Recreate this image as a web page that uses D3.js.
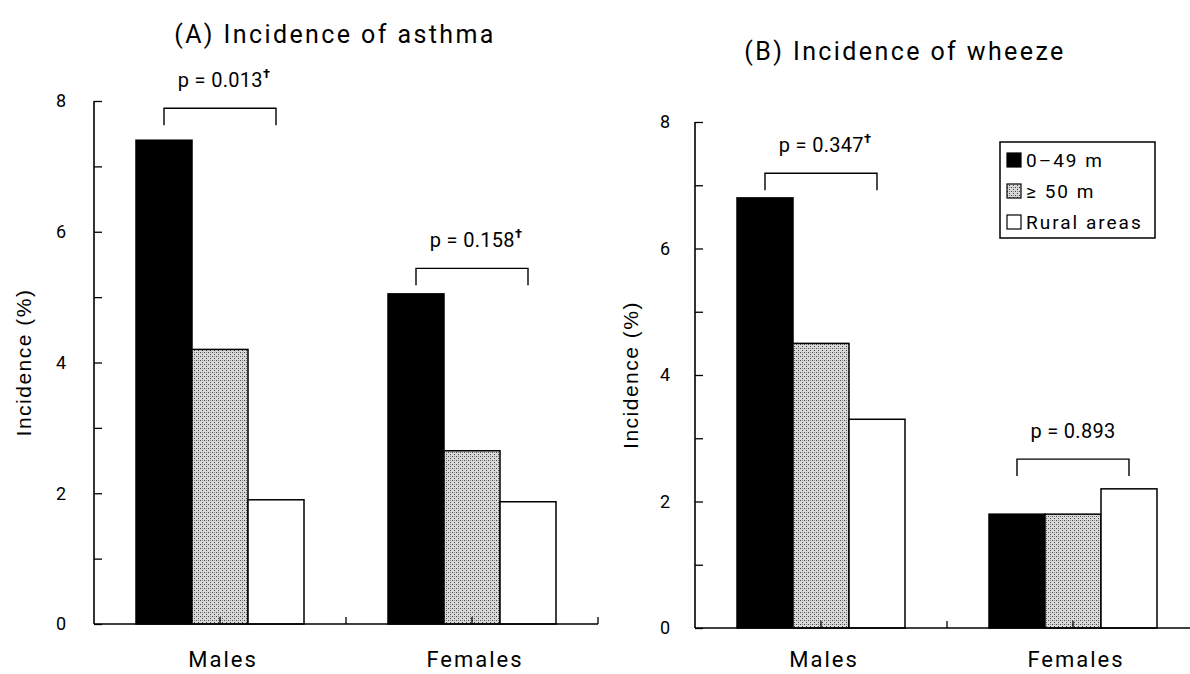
<!DOCTYPE html>
<meta charset="utf-8">
<style>
body { margin: 0; background: white; }
text { font-family: Roboto, "DejaVu Sans", sans-serif; fill: black; }
.ytitle { font-family: "Liberation Sans", Arial, sans-serif; }
</style>
<body>
<script src="https://d3js.org/d3.v7.min.js"></script>
<script>
var categories = ["Males", "Females"];
var groups = ["0\u201349 m", "\u2265 50 m", "Rural areas"];
var asthma = [[7.4, 4.2, 1.9], [5.05, 2.65, 1.87]];
var wheeze = [[6.8, 4.5, 3.3], [1.8, 1.8, 2.2]];
var asthmaP = ["0.013", "0.158"];
var asthmaDagger = [true, true];
var asthmaBracket = [7.89, 5.44];
var wheezeP = ["0.347", "0.893"];
var wheezeDagger = [true, false];
var wheezeBracket = [7.19, 2.67];
var yTicks = d3.range(0, 9);

var width = 1190, height = 674;
var svg = d3.select("body").append("svg")
    .attr("width", width)
    .attr("height", height);

// stipple pattern for the >= 50 m bars
var defs = svg.append("defs");
var pat = defs.append("pattern")
    .attr("id", "dots")
    .attr("patternUnits", "userSpaceOnUse")
    .attr("width", 4).attr("height", 4);
pat.append("rect").attr("width", 4).attr("height", 4).attr("fill", "#d9d9d9");
pat.append("rect").attr("x", 0).attr("y", 0).attr("width", 1).attr("height", 1).attr("fill", "#444");
pat.append("rect").attr("x", 2).attr("y", 2).attr("width", 1).attr("height", 1).attr("fill", "#444");
pat.append("rect").attr("x", 2).attr("y", 0).attr("width", 1).attr("height", 1).attr("fill", "#8a8a8a");

var fills = ["black", "url(#dots)", "white"];

function panel(opt) {
  var g = svg.append("g");
  var x = d3.scaleBand().domain(categories).range([opt.x0, opt.x1]);
  var bw = x.bandwidth();
  var xi = d3.scaleBand().domain(groups).range([bw / 6, bw * 5 / 6]);
  var y = d3.scaleLinear().domain([0, 8]).range([opt.y0, opt.y8]);

  // bars
  categories.forEach(function(c, ci) {
    g.append("g")
      .selectAll("rect")
      .data(opt.values[ci])
      .enter().append("rect")
      .attr("x", function(d, i) { return x(c) + xi(groups[i]); })
      .attr("y", function(d) { return y(d); })
      .attr("width", xi.bandwidth())
      .attr("height", function(d) { return y(0) - y(d); })
      .attr("fill", function(d, i) { return fills[i]; })
      .attr("stroke", "black")
      .attr("stroke-width", 1.5);
  });

  // y axis
  var yAxis = d3.axisLeft(y)
      .tickValues(yTicks)
      .tickSize(-8)
      .tickPadding(opt.labelPad)
      .tickFormat(function(d) { return d % 2 === 0 ? d : ""; });
  var ya = g.append("g")
      .attr("transform", "translate(" + opt.x0 + ",0)")
      .call(yAxis);
  ya.select(".domain").attr("stroke-width", 1.6).attr("d", "M0," + y(0) + "V" + y(8));
  ya.selectAll(".tick line").attr("stroke-width", 1.3);
  ya.selectAll(".tick text")
      .attr("font-size", 18)
      .attr("font-family", null);

  // x axis with ticks at band edges and centres
  var xt = [];
  categories.forEach(function(c) { xt.push(x(c)); xt.push(x(c) + bw / 2); });
  xt.push(opt.x1);
  g.append("line")
      .attr("x1", opt.x0).attr("x2", opt.x1)
      .attr("y1", y(0)).attr("y2", y(0))
      .attr("stroke", "black").attr("stroke-width", 1.6);
  g.append("g").selectAll("line")
      .data(xt.slice(1))
      .enter().append("line")
      .attr("x1", function(d) { return d; }).attr("x2", function(d) { return d; })
      .attr("y1", y(0)).attr("y2", y(0) - 7)
      .attr("stroke", "black").attr("stroke-width", 1.3);

  g.append("g").selectAll("text")
      .data(categories)
      .enter().append("text")
      .attr("x", function(d) { return x(d) + bw / 2 + 3; })
      .attr("y", 667)
      .attr("text-anchor", "middle")
      .attr("font-size", 22)
      .attr("letter-spacing", 2)
      .text(function(d) { return d; });

  // y title
  g.append("text")
      .attr("class", "ytitle")
      .attr("transform", "translate(" + opt.ytx + "," + (y(0) + y(8)) / 2 + ") rotate(-90)")
      .attr("text-anchor", "middle")
      .attr("font-size", 21)
      .attr("letter-spacing", 1.5)
      .text("Incidence (%)");

  // chart title
  g.append("text")
      .attr("x", opt.tx).attr("y", opt.ty)
      .attr("text-anchor", "middle")
      .attr("font-size", 25)
      .attr("letter-spacing", 2.4)
      .text(opt.title);

  // significance brackets
  categories.forEach(function(c, ci) {
    var bx1 = x(c) + xi(groups[0]) + xi.bandwidth() / 2;
    var bx2 = x(c) + xi(groups[2]) + xi.bandwidth() / 2;
    var by = y(opt.bracket[ci]);
    g.append("path")
      .attr("d", "M" + bx1 + "," + (by + 17) + "V" + by + "H" + bx2 + "V" + (by + 17))
      .attr("fill", "none").attr("stroke", "black").attr("stroke-width", 1.4);
    var t = g.append("text")
      .attr("x", (bx1 + bx2) / 2 + (opt.dagger[ci] ? 4 : 0))
      .attr("y", by - 21)
      .attr("text-anchor", "middle")
      .attr("font-size", 20)
      .attr("letter-spacing", 0.3);
    t.append("tspan").text("p = " + opt.p[ci]);
    if (opt.dagger[ci]) {
      t.append("tspan").attr("dy", -9).attr("font-size", 13).attr("font-weight", 700).text("\u2020");
    }
  });
  return { x: x, y: y };
}

panel({
  x0: 94, x1: 598, y0: 624, y8: 101, labelPad: 28, ytx: 31,
  values: asthma, p: asthmaP, dagger: asthmaDagger, bracket: asthmaBracket,
  title: "(A) Incidence of asthma", tx: 335, ty: 43
});
panel({
  x0: 695, x1: 1199, y0: 628, y8: 122, labelPad: 25, ytx: 638,
  values: wheeze, p: wheezeP, dagger: wheezeDagger, bracket: wheezeBracket,
  title: "(B) Incidence of wheeze", tx: 905, ty: 60
});

// legend
var lg = svg.append("g").attr("transform", "translate(1000,142)");
lg.append("rect")
    .attr("width", 155).attr("height", 96)
    .attr("fill", "white").attr("stroke", "black").attr("stroke-width", 1.5);
var items = lg.selectAll(".item")
    .data(groups)
    .enter().append("g")
    .attr("transform", function(d, i) { return "translate(7," + (18 + i * 31) + ")"; });
items.append("rect")
    .attr("x", 0).attr("y", -7).attr("width", 14).attr("height", 14)
    .attr("fill", function(d, i) { return fills[i]; })
    .attr("stroke", "black").attr("stroke-width", 1.2);
items.append("text")
    .attr("x", 19).attr("y", 7)
    .attr("font-size", 19)
    .attr("letter-spacing", 2)
    .text(function(d) { return d; });
</script>
</body>
</html>
